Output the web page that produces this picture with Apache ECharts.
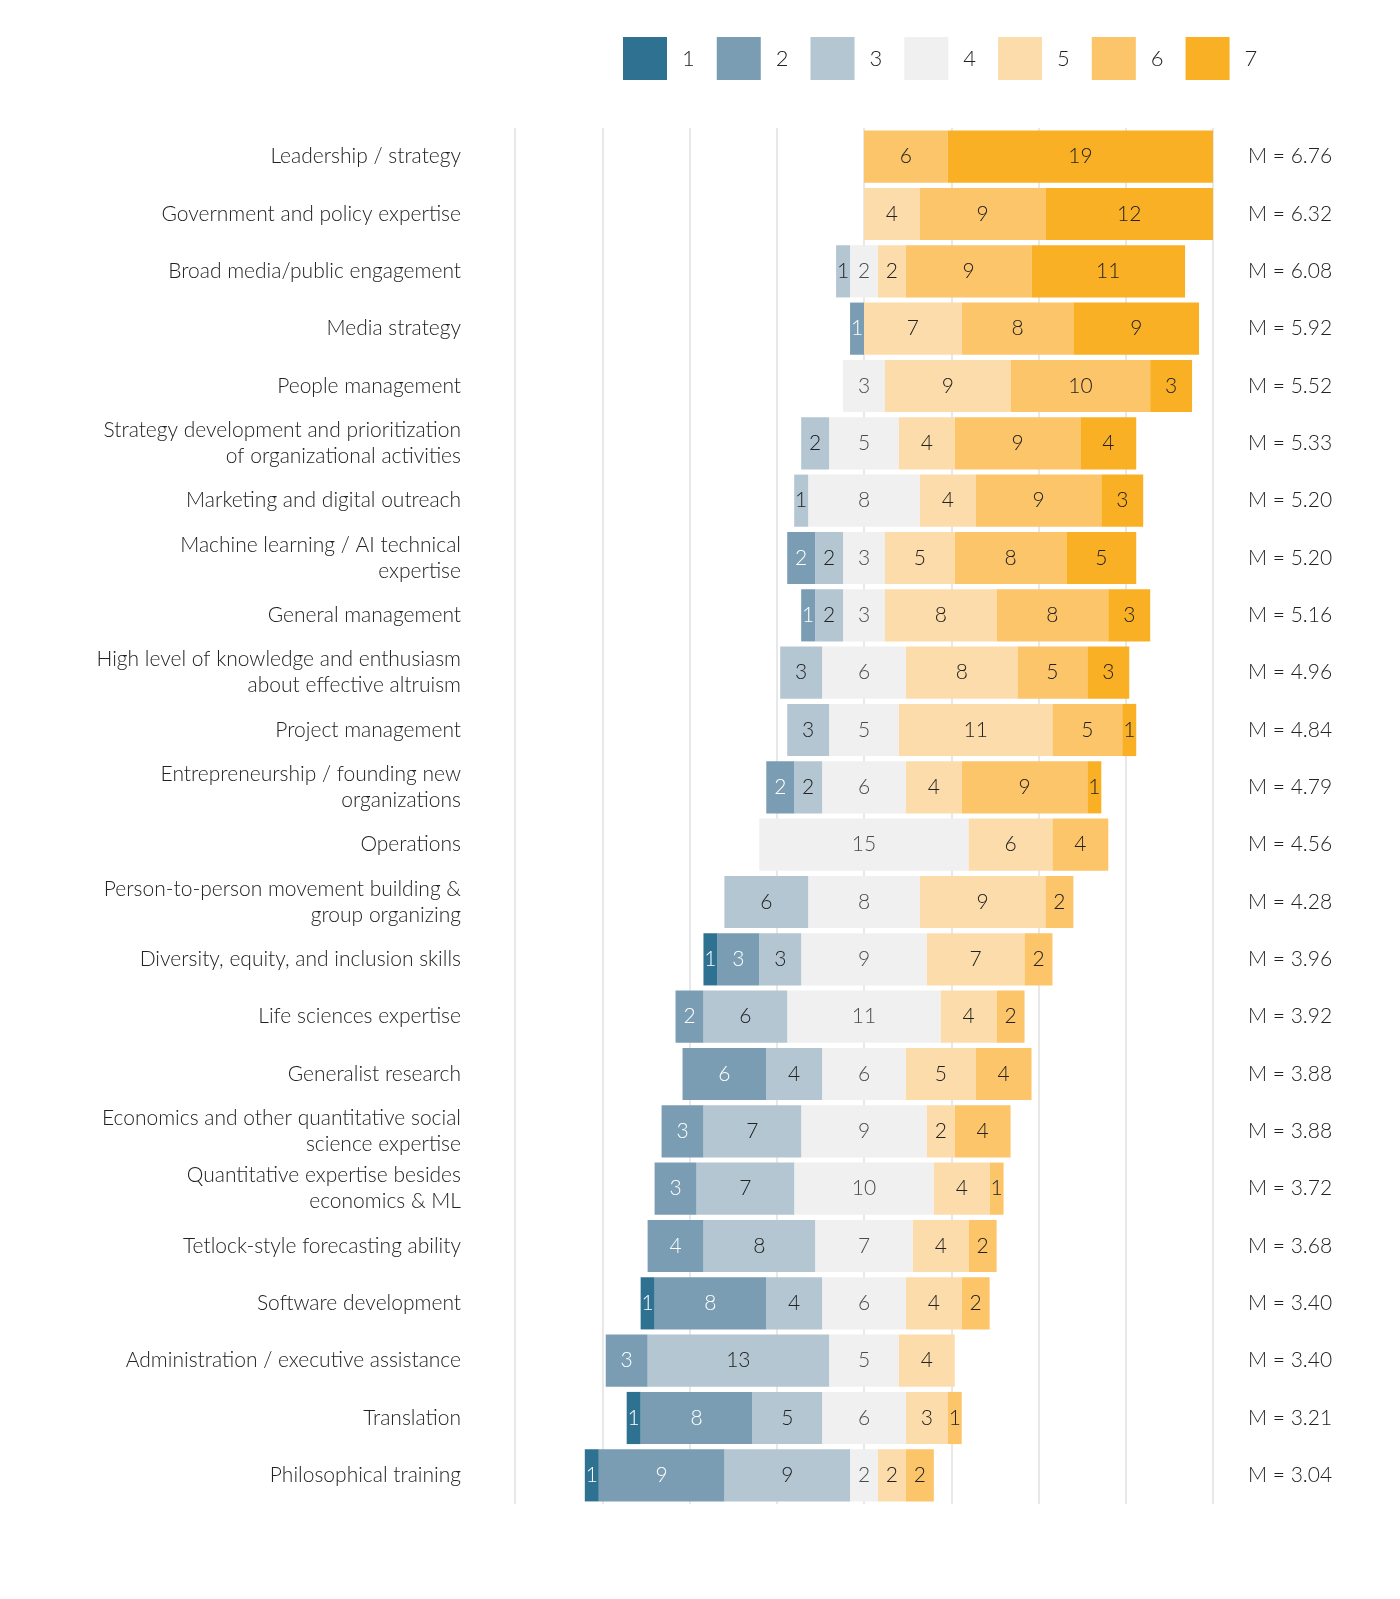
<!DOCTYPE html>
<html>
<head>
<meta charset="utf-8">
<script src="https://cdn.jsdelivr.net/npm/echarts@6/dist/echarts.min.js"></script>
<style>html,body{margin:0;padding:0;background:#fff;overflow:hidden;width:100%;height:100%}</style>
</head>
<body>
<div id="main" style="width:1400px;height:1599px;"></div>
<script>
// skill names, top to bottom
var skills = [
  'Leadership / strategy',
  'Government and policy expertise',
  'Broad media/public engagement',
  'Media strategy',
  'People management',
  'Strategy development and prioritization\nof organizational activities',
  'Marketing and digital outreach',
  'Machine learning / AI technical\nexpertise',
  'General management',
  'High level of knowledge and enthusiasm\nabout effective altruism',
  'Project management',
  'Entrepreneurship / founding new\norganizations',
  'Operations',
  'Person-to-person movement building &\ngroup organizing',
  'Diversity, equity, and inclusion skills',
  'Life sciences expertise',
  'Generalist research',
  'Economics and other quantitative social\nscience expertise',
  'Quantitative expertise besides\neconomics & ML',
  'Tetlock-style forecasting ability',
  'Software development',
  'Administration / executive assistance',
  'Translation',
  'Philosophical training'
];
// counts per rating 1..7
var r1 = [0,0,0,0,0,0,0,0,0,0,0,0,0,0,1,0,0,0,0,0,1,0,1,1];
var r2 = [0,0,0,1,0,0,0,2,1,0,0,2,0,0,3,2,6,3,3,4,8,3,8,9];
var r3 = [0,0,1,0,0,2,1,2,2,3,3,2,0,6,3,6,4,7,7,8,4,13,5,9];
var r4 = [0,0,2,0,3,5,8,3,3,6,5,6,15,8,9,11,6,9,10,7,6,5,6,2];
var r5 = [0,4,2,7,9,4,4,5,8,8,11,4,6,9,7,4,5,2,4,4,4,4,3,2];
var r6 = [6,9,9,8,10,9,9,8,8,5,5,9,4,2,2,2,4,4,1,2,2,0,1,2];
var r7 = [19,12,11,9,3,4,3,5,3,3,1,1,0,0,0,0,0,0,0,0,0,0,0,0];
var means = ['6.76','6.32','6.08','5.92','5.52','5.33','5.20','5.20','5.16','4.96','4.84','4.79','4.56','4.28','3.96','3.92','3.88','3.88','3.72','3.68','3.40','3.40','3.21','3.04'];
var colors = ['#2f7191','#7a9db3','#b5c6d3','#f0f0f0','#fddcac','#fdc56a','#fab024'];

function lbl(color) {
  return {show: true, color: color, fontSize: 21, fontFamily: 'Lato', fontWeight: 300,
    formatter: function (p) { var v = Math.abs(p.value); return v ? v : ''; }};
}
function bar(name, vals, color, labColor, showLabel) {
  return {name: name, type: 'bar', stack: 'all', data: vals,
    barCategoryGap: '9%', itemStyle: {color: color},
    label: showLabel ? lbl(labColor) : {show: false}, silent: true};
}
var neg = function (a, f) { return a.map(function (v) { return -v * f; }); };
var half = function (a, f) { return a.map(function (v) { return v * f; }); };

var series = [
  bar('4', neg(r4, 0.5), colors[3], '#222', false),
  bar('3', neg(r3, 1), colors[2], '#222', true),
  bar('2', neg(r2, 1), colors[1], '#fff', true),
  bar('1', neg(r1, 1), colors[0], '#fff', true),
  bar('4', half(r4, 0.5), colors[3], '#222', false),
  bar('5', r5, colors[4], '#222', true),
  bar('6', r6, colors[5], '#222', true),
  bar('7', r7, colors[6], '#222', true),
  {type: 'scatter', symbolSize: 0, silent: true, z: 10,
    data: r4.map(function (v, i) { return v ? [0, i, v] : null; }).filter(Boolean),
    label: {show: true, position: 'inside', color: '#222', fontSize: 21, fontFamily: 'Lato', fontWeight: 300,
      formatter: function (p) { return p.value[2]; }}}
];

var chart = echarts.init(document.getElementById('main'));
chart.setOption({
  animation: false,
  textStyle: {fontFamily: 'Lato'},
  legend: {data: ['1','2','3','4','5','6','7'], top: 32, left: 618, itemWidth: 44, itemHeight: 43, itemGap: 22,
    icon: 'rect', textStyle: {fontSize: 22, color: '#222', fontWeight: 300, padding: [0, 0, 0, 10]}},
  grid: {left: 515, right: 187, top: 128, bottom: 95},
  xAxis: {type: 'value', min: -25, max: 25, interval: 6.25,
    axisLabel: {show: false}, axisLine: {show: false}, axisTick: {show: false},
    splitLine: {show: true, lineStyle: {color: '#e8e8e8', width: 2}}},
  yAxis: [
    {type: 'category', data: skills, inverse: true, axisLine: {show: false}, axisTick: {show: false},
      axisLabel: {margin: 54, fontSize: 21, color: '#222', fontWeight: 300, lineHeight: 26, align: 'right'}},
    {type: 'category', data: means.map(function (m) { return 'M = ' + m; }), inverse: true, position: 'right',
      axisLine: {show: false}, axisTick: {show: false},
      axisLabel: {margin: 35, fontSize: 21, color: '#222', fontWeight: 300}}
  ],
  series: series
});
</script>
</body>
</html>
